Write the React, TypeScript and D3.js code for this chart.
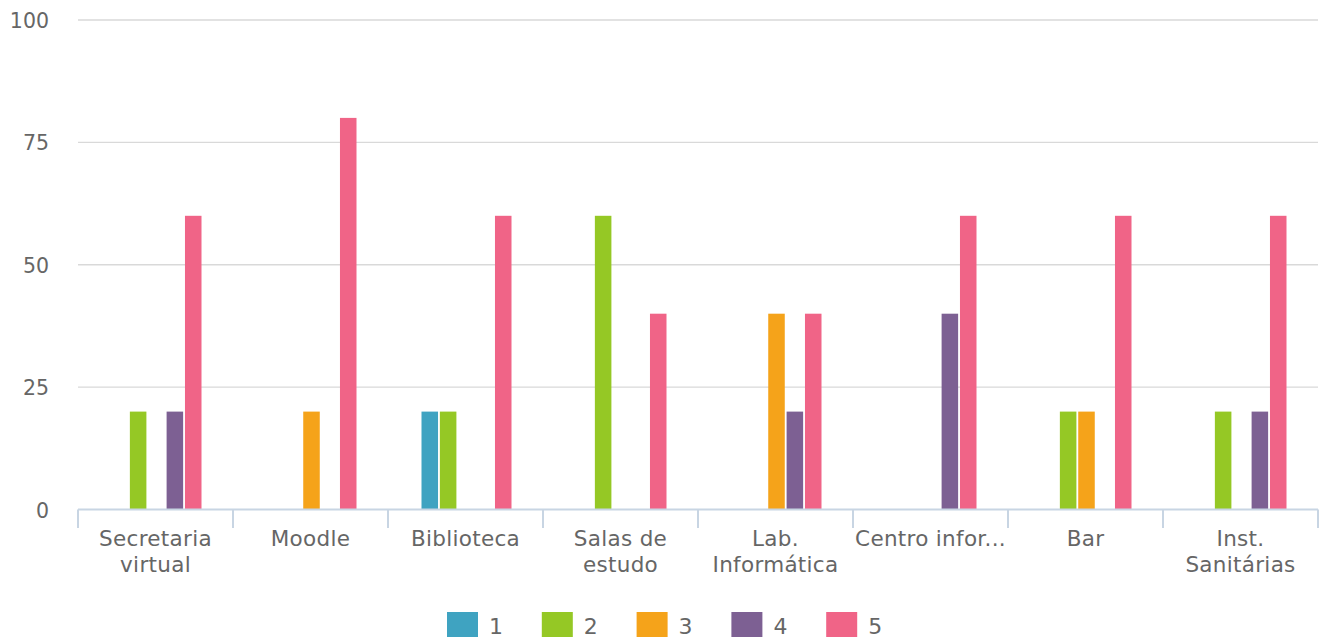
import React from "react";
import * as d3 from "d3";

const categories: string[][] = [
  ["Secretaria", "virtual"],
  ["Moodle"],
  ["Biblioteca"],
  ["Salas de", "estudo"],
  ["Lab.", "Informática"],
  ["Centro infor..."],
  ["Bar"],
  ["Inst.", "Sanitárias"],
];
const seriesNames = ["1", "2", "3", "4", "5"];
const seriesColors = ["#3fa3c1", "#95c825", "#f5a31a", "#7d6093", "#f06487"];
const s1 = [0, 0, 20, 0, 0, 0, 0, 0];
const s2 = [20, 0, 20, 60, 0, 0, 20, 20];
const s3 = [0, 20, 0, 0, 40, 0, 20, 0];
const s4 = [20, 0, 0, 0, 20, 40, 0, 20];
const s5 = [60, 80, 60, 40, 40, 60, 60, 60];
const seriesValues = [s1, s2, s3, s4, s5];
const yTicks = [0, 25, 50, 75, 100];

const W = 1326;
const H = 637;
const left = 78;
const right = 1318;
const top = 20;
const bottom = 509.5;
const font = "'DejaVu Sans', Verdana, sans-serif";

export default function App() {
  const catKeys = categories.map((c) => c.join(" "));
  const x0 = d3.scaleBand<string>().domain(catKeys).range([left, right]);
  const x1 = d3
    .scaleBand<string>()
    .domain(seriesNames)
    .range([33.5, 123.5])
    .paddingInner(0.1);
  const y = d3.scaleLinear().domain([0, 100]).range([bottom, top]);
  const step = x0.step();

  return (
    <svg
      width={W}
      height={H}
      style={{ position: "absolute", left: 0, top: 0, background: "#fff" }}
      fontFamily={font}
    >
      {yTicks.map((t) => (
        <g key={t}>
          {t !== 0 && (
            <line x1={left} x2={right} y1={y(t)} y2={y(t)} stroke="#d9d9d9" strokeWidth={1.3} />
          )}
          <text x={49} y={y(t) + 8} textAnchor="end" fontSize={20.5} fill="#666">
            {t}
          </text>
        </g>
      ))}
      {seriesValues.map((vals, si) =>
        vals.map((v, ci) =>
          v > 0 ? (
            <rect
              key={`${si}-${ci}`}
              x={(x0(catKeys[ci]) as number) + (x1(seriesNames[si]) as number)}
              y={y(v)}
              width={x1.bandwidth()}
              height={bottom - y(v)}
              fill={seriesColors[si]}
            />
          ) : null
        )
      )}
      <line x1={left} x2={right} y1={bottom} y2={bottom} stroke="#c8d5e3" strokeWidth={2} />
      {d3.range(categories.length + 1).map((i) => (
        <line
          key={i}
          x1={left + i * step}
          x2={left + i * step}
          y1={bottom}
          y2={528}
          stroke="#c8d5e3"
          strokeWidth={2}
        />
      ))}
      {categories.map((lines, ci) => (
        <text
          key={ci}
          x={(x0(catKeys[ci]) as number) + step / 2}
          y={546}
          textAnchor="middle"
          fontSize={21.5}
          fill="#666"
          letterSpacing={0.3}
        >
          {lines.map((l, li) => (
            <tspan key={li} x={(x0(catKeys[ci]) as number) + step / 2} dy={li === 0 ? 0 : 26}>
              {l}
            </tspan>
          ))}
        </text>
      ))}
      {seriesNames.map((n, i) => (
        <g key={n} transform={`translate(${447 + i * 94.8},612)`}>
          <rect width={31} height={25} fill={seriesColors[i]} />
          <text x={42} y={21.5} fontSize={22} fill="#666">
            {n}
          </text>
        </g>
      ))}
    </svg>
  );
}
